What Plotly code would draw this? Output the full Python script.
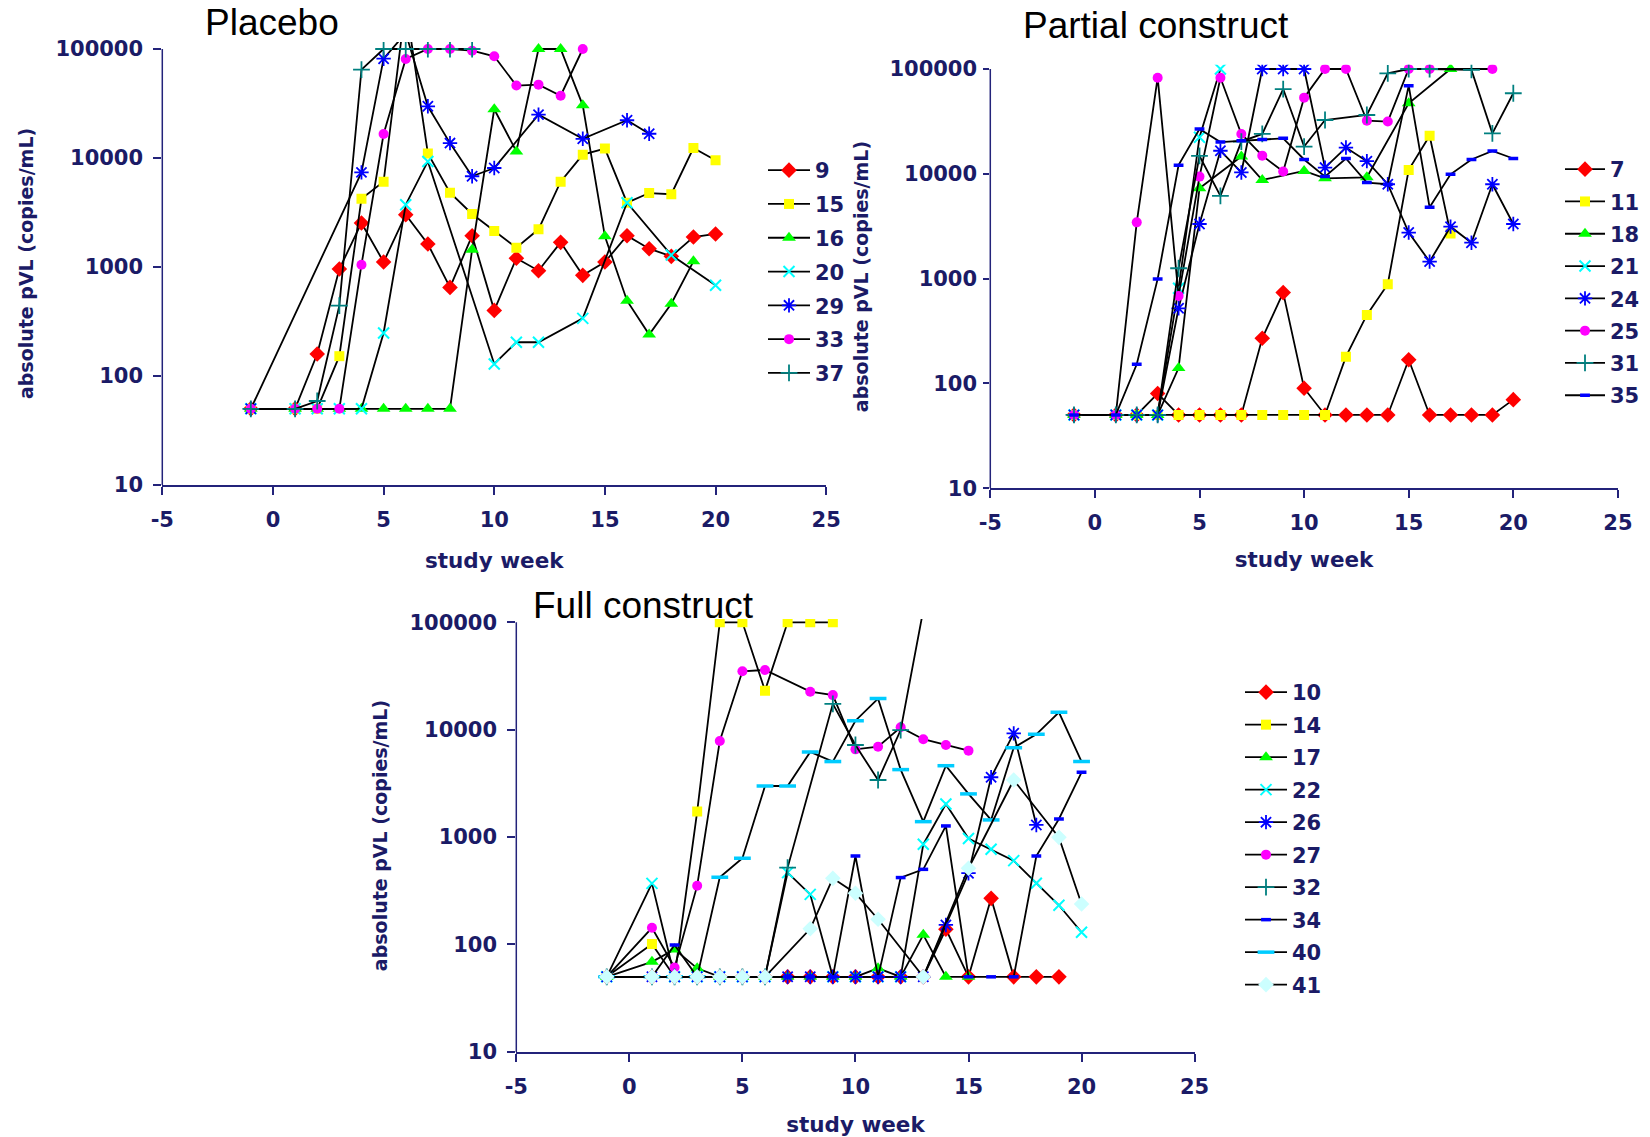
import plotly.graph_objects as go

# ---------------- Placebo ----------------
pl_9_wk = [-1, 1, 2, 3, 4, 5, 6, 7, 8, 9, 10, 11, 12, 13, 14, 15, 16, 17, 18, 19, 20]
pl_9_vl = [50, 50, 159, 959, 2535, 1112, 3020, 1626, 650, 1937, 400, 1204, 925, 1683, 838, 1112, 1937, 1472, 1253, 1884, 2010]
pl_15_wk = [-1, 1, 2, 3, 4, 5, 6, 7, 8, 9, 10, 11, 12, 13, 14, 15, 16, 17, 18, 19, 20]
pl_15_vl = [50, 50, 50, 152, 4235, 6070, 260000, 11000, 4810, 3065, 2137, 1503, 2217, 6070, 10740, 12200, 3890, 4770, 4650, 12350, 9530]
pl_16_wk = [-1, 1, 2, 3, 4, 5, 6, 7, 8, 9, 10, 11, 12, 13, 14, 15, 16, 17, 18, 19]
pl_16_vl = [50, 50, 50, 50, 50, 50, 50, 50, 50, 1443, 28000, 11500, 100000, 100000, 30400, 1910, 491, 240, 461, 1128]
pl_20_wk = [-1, 1, 2, 3, 4, 5, 6, 7, 10, 11, 12, 14, 16, 18, 20]
pl_20_vl = [50, 50, 50, 50, 50, 248, 3730, 9300, 129, 204, 204, 338, 3890, 1288, 680]
pl_29_wk = [-1, 4, 5, 6, 7, 8, 9, 10, 12, 14, 16, 17]
pl_29_vl = [50, 7380, 81500, 140000, 29800, 13700, 6800, 8100, 25000, 15000, 22200, 16700]
pl_33_wk = [-1, 1, 2, 3, 4, 5, 6, 7, 8, 9, 10, 11, 12, 13, 14]
pl_33_vl = [50, 50, 50, 50, 1050, 16600, 81000, 100000, 100000, 96500, 85700, 46200, 47100, 37300, 100000]
pl_37_wk = [-1, 1, 2, 3, 4, 5, 6, 7, 8, 9]
pl_37_vl = [50, 50, 59, 442, 64600, 100000, 100000, 100000, 100000, 100000]

# ---------------- Partial construct ----------------
pa_7_wk = [-1, 1, 2, 3, 4, 5, 6, 7, 8, 9, 10, 11, 12, 13, 14, 15, 16, 17, 18, 19, 20]
pa_7_vl = [50, 50, 50, 80, 50, 50, 50, 50, 270, 735, 90, 50, 50, 50, 50, 168, 50, 50, 50, 50, 70]
pa_11_wk = [-1, 1, 2, 3, 4, 5, 6, 7, 8, 9, 10, 11, 12, 13, 14, 15, 16, 17]
pa_11_vl = [50, 50, 50, 50, 50, 50, 50, 50, 50, 50, 50, 50, 180, 450, 884, 10900, 23100, 2700]
pa_18_wk = [-1, 1, 2, 3, 4, 5, 7, 8, 10, 11, 13, 15, 17]
pa_18_vl = [50, 50, 50, 50, 140, 7280, 14600, 8730, 10640, 9060, 9260, 47000, 100000]
pa_21_wk = [-1, 1, 2, 3, 4, 5, 6]
pa_21_vl = [50, 50, 50, 50, 810, 22300, 100000]
pa_24_wk = [-1, 1, 2, 3, 4, 5, 6, 7, 8, 9, 10, 11, 12, 13, 14, 15, 16, 17, 18, 19, 20]
pa_24_vl = [50, 50, 50, 50, 521, 3320, 16600, 10300, 100000, 100000, 100000, 11460, 17800, 13200, 7950, 2750, 1453, 3130, 2200, 7950, 3320]
pa_25_wk = [-1, 1, 2, 3, 4, 5, 6, 7, 8, 9, 10, 11, 12, 13, 14, 15, 16, 19]
pa_25_vl = [50, 50, 3440, 82600, 684, 9400, 82600, 24000, 14900, 10500, 53300, 100000, 100000, 32100, 31500, 100000, 100000, 100000]
pa_31_wk = [-1, 1, 2, 3, 4, 5, 6, 7, 8, 9, 10, 11, 13, 14, 15, 16, 18, 19, 20]
pa_31_vl = [50, 50, 50, 50, 1256, 14800, 6150, 20300, 24000, 64400, 18200, 32600, 36400, 91000, 100000, 100000, 98000, 24300, 58700]
pa_35_wk = [-1, 1, 2, 3, 4, 5, 6, 7, 8, 9, 10, 11, 12, 13, 14, 15, 16, 17, 18, 19, 20]
pa_35_vl = [50, 50, 152, 994, 12100, 26800, 20100, 20700, 21300, 21800, 13700, 9400, 14000, 8240, 7950, 69300, 4790, 9890, 13700, 16500, 14000]

# ---------------- Full construct ----------------
fu_10_wk = [-1, 1, 2, 3, 4, 5, 6, 7, 8, 9, 10, 11, 12, 13, 14, 15, 16, 17, 18, 19]
fu_10_vl = [50, 50, 50, 50, 50, 50, 50, 50, 50, 50, 50, 50, 50, 50, 139, 50, 269, 50, 50, 50]
fu_14_wk = [-1, 1, 2, 3, 4, 5, 6, 7, 8, 9]
fu_14_vl = [50, 101, 50, 1727, 100000, 100000, 23100, 100000, 100000, 100000]
fu_17_wk = [-1, 1, 2, 3, 4, 5, 6, 7, 8, 9, 10, 11, 12, 13, 14, 15]
fu_17_vl = [50, 69, 90, 60, 50, 50, 50, 50, 50, 50, 50, 60, 50, 123, 50, 50]
fu_22_wk = [-1, 1, 2, 3, 4, 5, 6, 7, 8, 9, 10, 11, 12, 13, 14, 15, 16, 17, 18, 19, 20]
fu_22_vl = [50, 371, 50, 50, 50, 50, 50, 467, 293, 50, 50, 50, 50, 857, 2033, 969, 770, 604, 372, 232, 130]
fu_26_wk = [-1, 1, 2, 3, 4, 5, 6, 7, 8, 9, 10, 11, 12, 13, 14, 15, 16, 17, 18]
fu_26_vl = [50, 50, 50, 50, 50, 50, 50, 50, 50, 50, 50, 50, 50, 50, 152, 461, 3610, 9250, 1297]
fu_27_wk = [-1, 1, 2, 3, 4, 5, 6, 8, 9, 10, 11, 12, 13, 14, 15]
fu_27_vl = [50, 143, 61, 353, 7850, 35000, 36000, 22600, 21000, 6560, 6950, 10520, 8150, 7200, 6380]
fu_32_wk = [-1, 1, 2, 3, 4, 5, 6, 7, 9, 10, 11, 12, 13]
fu_32_vl = [50, 50, 50, 50, 50, 50, 50, 520, 17400, 7200, 3400, 9930, 130000]
fu_34_wk = [-1, 1, 2, 3, 4, 5, 6, 7, 8, 9, 10, 11, 12, 13, 14, 15, 16, 17, 18, 19, 20]
fu_34_vl = [50, 50, 99, 50, 50, 50, 50, 50, 50, 50, 667, 50, 420, 501, 1270, 50, 50, 50, 667, 1475, 4010]
fu_40_wk = [-1, 1, 2, 3, 4, 5, 6, 7, 8, 9, 10, 11, 12, 13, 14, 15, 16, 17, 18, 19, 20]
fu_40_vl = [50, 50, 50, 50, 423, 635, 2990, 2990, 6210, 5050, 12130, 19470, 4250, 1393, 4620, 2525, 1445, 6800, 9060, 14530, 5050]
fu_41_wk = [-1, 1, 2, 3, 4, 5, 6, 8, 9, 10, 11, 13, 15, 17, 19, 20]
fu_41_vl = [50, 50, 50, 50, 50, 50, 50, 140, 413, 300, 172, 50, 513, 3400, 995, 238]

panel_titles = ["Placebo", "Partial construct", "Full construct"]
y_tick_vals = [10, 100, 1000, 10000, 100000]
y_tick_text = ["10", "100", "1000", "10000", "100000"]
x_tick_vals = [-5, 0, 5, 10, 15, 20, 25]
x_tick_text = ["-5", "0", "5", "10", "15", "20", "25"]
x_title = "study week"
y_title = "absolute pVL (copies/mL)"

# ---------------- styles ----------------
STY = {
    "diamond": dict(symbol="diamond", color="#FF0000", size=12, lw=0),
    "square": dict(symbol="square", color="#FFFF00", size=10, lw=0),
    "triangle": dict(symbol="triangle-up", color="#00FF00", size=12, lw=0),
    "x": dict(symbol="x-thin-open", color="#00FFFF", size=11, lw=2),
    "star": dict(symbol="asterisk-open", color="#0000FF", size=12, lw=1.8),
    "circle": dict(symbol="circle", color="#FF00FF", size=10, lw=0),
    "plus": dict(symbol="cross-thin-open", color="#008080", size=12, lw=1.8),
    "sdash": dict(symbol="line-ew-open", color="#0000FF", size=7, lw=3.5),
    "ldash": dict(symbol="line-ew-open", color="#00CCFF", size=12, lw=3.5),
    "ldiam": dict(symbol="diamond", color="#CCFFFF", size=12, lw=0),
}

AX = "#23237a"
TXT = "#1b1b66"
TICKFONT = dict(family="DejaVu Sans", size=21, color=TXT, weight="bold")

panels = [
    ("x", "y", "legend", [
        ("9", pl_9_wk, pl_9_vl, "diamond"),
        ("15", pl_15_wk, pl_15_vl, "square"),
        ("16", pl_16_wk, pl_16_vl, "triangle"),
        ("20", pl_20_wk, pl_20_vl, "x"),
        ("29", pl_29_wk, pl_29_vl, "star"),
        ("33", pl_33_wk, pl_33_vl, "circle"),
        ("37", pl_37_wk, pl_37_vl, "plus"),
    ]),
    ("x2", "y2", "legend2", [
        ("7", pa_7_wk, pa_7_vl, "diamond"),
        ("11", pa_11_wk, pa_11_vl, "square"),
        ("18", pa_18_wk, pa_18_vl, "triangle"),
        ("21", pa_21_wk, pa_21_vl, "x"),
        ("24", pa_24_wk, pa_24_vl, "star"),
        ("25", pa_25_wk, pa_25_vl, "circle"),
        ("31", pa_31_wk, pa_31_vl, "plus"),
        ("35", pa_35_wk, pa_35_vl, "sdash"),
    ]),
    ("x3", "y3", "legend3", [
        ("10", fu_10_wk, fu_10_vl, "diamond"),
        ("14", fu_14_wk, fu_14_vl, "square"),
        ("17", fu_17_wk, fu_17_vl, "triangle"),
        ("22", fu_22_wk, fu_22_vl, "x"),
        ("26", fu_26_wk, fu_26_vl, "star"),
        ("27", fu_27_wk, fu_27_vl, "circle"),
        ("32", fu_32_wk, fu_32_vl, "plus"),
        ("34", fu_34_wk, fu_34_vl, "sdash"),
        ("40", fu_40_wk, fu_40_vl, "ldash"),
        ("41", fu_41_wk, fu_41_vl, "ldiam"),
    ]),
]

fig = go.Figure()
for xa, ya, lg, series in panels:
    for name, wk, vl, st in series:
        s = STY[st]
        fig.add_trace(go.Scatter(
            x=wk, y=vl, name=name, mode="lines+markers",
            xaxis=xa, yaxis=ya, legend=lg, legendgroup=lg + name,
            line=dict(color="black", width=1.8),
            marker=dict(symbol=s["symbol"], color=s["color"], size=s["size"],
                        line=dict(color=s["color"], width=s["lw"])),
        ))

W, H = 1650, 1137
geo = {
    1: dict(x0=162.3, x1=826.2, yb=485.0, dec=109.0, top=5.065, ylab_so=6, ytick_len=8, ytit_so=16, xtit_so=22),
    2: dict(x0=990.3, x1=1617.9, yb=488.2, dec=104.8, top=5.04, ylab_so=2, ytick_len=6, ytit_so=15, xtit_so=18),
    3: dict(x0=516.3, x1=1194.6, yb=1051.9, dec=107.4, top=5.03, ylab_so=6, ytick_len=8, ytit_so=16, xtit_so=20),
}
layout = dict(width=W, height=H, margin=dict(l=0, r=0, t=0, b=0, autoexpand=False),
              plot_bgcolor="white", paper_bgcolor="white", showlegend=True)
shapes = []
for i, g in geo.items():
    sfx = "" if i == 1 else str(i)
    ytop_px = g["yb"] - (g["top"] - 1) * g["dec"]
    layout["xaxis" + sfx] = dict(
        domain=[g["x0"] / W, g["x1"] / W], anchor="y" + sfx, range=[-5, 25],
        tickvals=x_tick_vals, ticktext=x_tick_text,
        ticks="outside", ticklen=8, tickwidth=1.5, tickcolor=AX,
        showline=True, linecolor=AX, linewidth=1.5, showgrid=False, zeroline=False,
        tickfont=TICKFONT, ticklabelstandoff=7, automargin=False,
        title=dict(text=x_title, font=dict(family="DejaVu Sans", size=21.5, color=TXT, weight="bold"),
                   standoff=g["xtit_so"]),
    )
    layout["yaxis" + sfx] = dict(
        domain=[1 - g["yb"] / H, 1 - ytop_px / H], anchor="x" + sfx, type="log",
        range=[1, g["top"]], tickvals=y_tick_vals, ticktext=y_tick_text,
        ticks="outside", ticklen=g["ytick_len"], tickwidth=1.5, tickcolor=AX,
        showline=False, showgrid=False, zeroline=False,
        tickfont=TICKFONT, ticklabelstandoff=g["ylab_so"], automargin=False,
        title=dict(text=y_title, font=dict(family="DejaVu Sans", size=19, color=TXT, weight="bold"),
                   standoff=g["ytit_so"]),
    )
    shapes.append(dict(type="line", xref="x" + sfx + " domain", yref="y" + sfx + " domain",
                       x0=0, x1=0, y0=0, y1=4 / (g["top"] - 1), line=dict(color=AX, width=1.5)))
layout["shapes"] = shapes

LEGFONT = dict(family="DejaVu Sans", size=21, color=TXT, weight="bold")
layout["legend"] = dict(x=763 / W, y=1 - 150 / H, xanchor="left", yanchor="top", font=LEGFONT,
                        tracegroupgap=3.5, itemwidth=42, bgcolor="rgba(0,0,0,0)")
layout["legend2"] = dict(x=1560 / W, y=1 - 149 / H, xanchor="left", yanchor="top", font=LEGFONT,
                         tracegroupgap=2, itemwidth=40, bgcolor="rgba(0,0,0,0)")
layout["legend3"] = dict(x=1240 / W, y=1 - 672 / H, xanchor="left", yanchor="top", font=LEGFONT,
                         tracegroupgap=2.2, itemwidth=42, bgcolor="rgba(0,0,0,0)")

TFONT = dict(family="Liberation Sans", size=37, color="black")
layout["annotations"] = [
    dict(text=panel_titles[0], x=203 / W, y=1 - 23 / H, xref="paper", yref="paper",
         xanchor="left", yanchor="middle", showarrow=False, font=TFONT),
    dict(text=panel_titles[1], x=1021 / W, y=1 - 26 / H, xref="paper", yref="paper",
         xanchor="left", yanchor="middle", showarrow=False, font=TFONT),
    dict(text=panel_titles[2], x=531 / W, y=1 - 605 / H, xref="paper", yref="paper",
         xanchor="left", yanchor="middle", showarrow=False, font=TFONT),
]
fig.update_layout(**layout)
fig.write_html("out.html", config={"displayModeBar": False},
               post_script="document.body.style.margin='0';")
